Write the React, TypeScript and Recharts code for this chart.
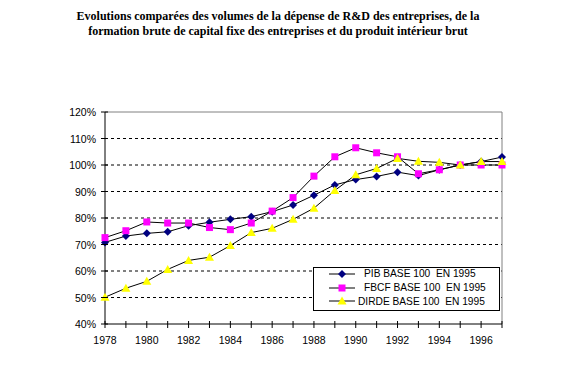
import React from 'react';
import { LineChart, Line, XAxis, YAxis, ReferenceLine } from 'recharts';

const years = [1978, 1979, 1980, 1981, 1982, 1983, 1984, 1985, 1986, 1987, 1988, 1989, 1990, 1991, 1992, 1993, 1994, 1995, 1996, 1997];
const pib = [70.8, 73.2, 74.2, 74.8, 77.1, 78.4, 79.5, 80.5, 82.4, 84.9, 88.6, 92.5, 94.5, 95.7, 97.3, 96.0, 98.2, 100, 101.3, 103.0];
const fbcf = [72.6, 75.2, 78.5, 78.1, 78.1, 76.4, 75.6, 78.1, 82.6, 87.7, 95.8, 103.1, 106.5, 104.6, 103.1, 96.7, 98.2, 100, 100, 100];
const dirde = [50.1, 53.5, 56.1, 60.6, 64.0, 65.2, 69.6, 74.5, 76.1, 79.5, 83.7, 90.4, 96.3, 98.7, 102.5, 101.4, 101.0, 100, 101.3, 101.3];
const yTicks = [40, 50, 60, 70, 80, 90, 100, 110, 120];
const gridValues = [50, 60, 70, 80, 90, 100, 110];

const seriesNames = {
  pib: 'PIB BASE 100  EN 1995',
  fbcf: 'FBCF BASE 100  EN 1995',
  dirde: 'DIRDE BASE 100  EN 1995',
};

const data = years.map((year, i) => ({ year, pib: pib[i], fbcf: fbcf[i], dirde: dirde[i] }));

const FONT = 'Arial, "Liberation Sans", sans-serif';

const Marker = ({ kind, cx, cy }: { kind: string; cx: number; cy: number }) => {
  if (kind === 'pib') {
    return <polygon points={`${cx},${cy - 4} ${cx + 4},${cy} ${cx},${cy + 4} ${cx - 4},${cy}`} fill="#000080" />;
  }
  if (kind === 'fbcf') {
    return <rect x={cx - 3.5} y={cy - 3.5} width={7} height={7} fill="#FF00FF" />;
  }
  return <polygon points={`${cx},${cy - 4.5} ${cx + 4.5},${cy + 3.5} ${cx - 4.5},${cy + 3.5}`} fill="#FFFF00" />;
};

const makeDot = (kind: string) => (props: any) => {
  const { cx, cy, index } = props;
  if (cx == null || cy == null) return <g key={`${kind}-${index}`} />;
  return <Marker key={`${kind}-${index}`} kind={kind} cx={cx} cy={cy} />;
};

const XTick = (props: any) => {
  const { x, y, payload } = props;
  const v = payload.value as number;
  return (
    <g>
      <line x1={x} x2={x} y1={y - 3} y2={y + 4} stroke="#000" />
      {v % 2 === 0 && (
        <text x={x} y={y + 20} textAnchor="middle" fontSize={10.5} fontFamily={FONT} fill="#000">
          {v}
        </text>
      )}
    </g>
  );
};

const YTick = (props: any) => {
  const { x, y, payload } = props;
  return (
    <g>
      <line x1={x - 4} x2={x + 3} y1={y} y2={y} stroke="#000" />
      <text x={x - 9} y={y + 4} textAnchor="end" fontSize={10.5} fontFamily={FONT} fill="#000">
        {`${payload.value}%`}
      </text>
    </g>
  );
};

const LegendBox = () => (
  <div
    style={{
      position: 'absolute',
      left: 313,
      top: 267,
      width: 185,
      height: 42,
      border: '1px solid #000',
      background: '#fff',
      fontFamily: FONT,
      fontSize: 10.2,
      paddingTop: 0,
    }}
  >
    {(['pib', 'fbcf', 'dirde'] as const).map((k) => (
      <div key={k} style={{ display: 'flex', alignItems: 'center', height: 13.8, marginTop: k === 'pib' ? -1 : 0 }}>
        <svg width={30} height={12} style={{ marginLeft: 14, flexShrink: 0 }}>
          <line x1={1} x2={27} y1={6} y2={6} stroke="#000" />
          <Marker kind={k} cx={14} cy={6} />
        </svg>
        <span style={{ whiteSpace: 'pre', marginLeft: k === 'dirde' ? 0 : 6 }}>{seriesNames[k]}</span>
      </div>
    ))}
  </div>
);

export default function App() {
  return (
    <div style={{ position: 'absolute', left: 0, top: 0, width: 561, height: 372, background: '#fff' }}>
      <div
        style={{
          position: 'absolute',
          left: 0,
          top: 9,
          width: 556,
          textAlign: 'center',
          fontFamily: '"Liberation Serif", "Times New Roman", serif',
          fontWeight: 'bold',
          fontSize: 12,
          lineHeight: '15px',
        }}
      >
        <div>Evolutions comparées des volumes de la dépense de R&amp;D des entreprises, de la</div>
        <div>formation brute de capital fixe des entreprises et du produit intérieur brut</div>
      </div>
      <LineChart width={561} height={372} data={data} margin={{ top: 112, right: 59, bottom: 18, left: 45 }}>
        <XAxis
          dataKey="year"
          type="number"
          domain={[1978, 1997]}
          ticks={years}
          interval={0}
          tickSize={0}
          tickMargin={0}
          tick={<XTick />}
          tickLine={false}
          axisLine={{ stroke: '#000' }}
          height={30}
          allowDecimals={false}
        />
        <YAxis
          domain={[40, 120]}
          ticks={yTicks}
          interval={0}
          tickSize={0}
          tickMargin={0}
          tick={<YTick />}
          tickLine={false}
          axisLine={{ stroke: '#000' }}
          width={60}
        />
        {gridValues.map((v) => (
          <ReferenceLine key={v} y={v} stroke="#000" strokeDasharray="3 3" />
        ))}
        <ReferenceLine y={120} stroke="#808080" />
        <ReferenceLine x={1997} stroke="#808080" />
        <Line dataKey="pib" name={seriesNames.pib} stroke="#000" strokeWidth={1} dot={makeDot('pib')} isAnimationActive={false} />
        <Line dataKey="fbcf" name={seriesNames.fbcf} stroke="#000" strokeWidth={1} dot={makeDot('fbcf')} isAnimationActive={false} />
        <Line dataKey="dirde" name={seriesNames.dirde} stroke="#000" strokeWidth={1} dot={makeDot('dirde')} isAnimationActive={false} />
      </LineChart>
      <LegendBox />
    </div>
  );
}
